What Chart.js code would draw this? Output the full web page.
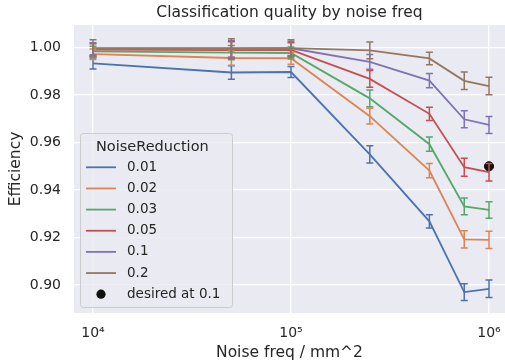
<!DOCTYPE html>
<html>
<head>
<meta charset="utf-8">
<script src="https://cdn.jsdelivr.net/npm/chart.js@4"></script>
<style>
  html, body { margin: 0; padding: 0; background: #fff; }
  canvas { display: block; }
</style>
</head>
<body>
<canvas id="qualityChart" width="505" height="362"></canvas>
<script>
// Noise frequency (per mm^2) at which every run was measured
const noiseFreq = [1e4, 5e4, 1e5, 2.5e5, 5e5, 7.5e5, 1e6];
const noiseReduction = ["0.01", "0.02", "0.03", "0.05", "0.1", "0.2"];

// Mean efficiency per noise reduction level
const eff001 = [0.9933, 0.9895, 0.9897, 0.9550, 0.9268, 0.8970, 0.8984];
const eff002 = [0.9972, 0.9956, 0.9955, 0.9711, 0.9482, 0.9192, 0.9190];
const eff003 = [0.9984, 0.9979, 0.9977, 0.9786, 0.9593, 0.9331, 0.9316];
const eff005 = [0.9991, 0.9989, 0.9990, 0.9868, 0.9721, 0.9496, 0.9475];
const eff01  = [0.9995, 0.9995, 0.9997, 0.9940, 0.9861, 0.9698, 0.9674];
const eff02  = [0.9997, 0.9997, 0.9998, 0.9988, 0.9954, 0.9860, 0.9838];

// Half-width of the error bars
const err001 = [0.0023, 0.0028, 0.0023, 0.0036, 0.0028, 0.0035, 0.0037];
const err002 = [0.0022, 0.0030, 0.0025, 0.0033, 0.0030, 0.0036, 0.0036];
const err003 = [0.0022, 0.0030, 0.0025, 0.0035, 0.0030, 0.0035, 0.0035];
const err005 = [0.0025, 0.0035, 0.0030, 0.0035, 0.0028, 0.0038, 0.0037];
const err01  = [0.0025, 0.0035, 0.0030, 0.0031, 0.0030, 0.0036, 0.0036];
const err02  = [0.0036, 0.0040, 0.0035, 0.0035, 0.0026, 0.0037, 0.0037];

const effSeries = [eff001, eff002, eff003, eff005, eff01, eff02];
const errSeries = [err001, err002, err003, err005, err01, err02];

// Target point
const desiredLabel = "desired at 0.1";
const desiredFreq = [1e6];
const desiredEff = [0.95];

const xTicks = [1e4, 1e5, 1e6];
const yTicks = [0.90, 0.92, 0.94, 0.96, 0.98, 1.00];

const palette = ["#4C72B0", "#DD8452", "#55A868", "#C44E52", "#8172B3", "#937860"];
const textColor = "#262626";
const fontFamily = "'DejaVu Sans', sans-serif";
const superscripts = { 4: "\u2074", 5: "\u2075", 6: "\u2076" };

const datasets = noiseReduction.map((label, i) => ({
    label: label,
    data: noiseFreq.map((f, j) => ({ x: f, y: effSeries[i][j] })),
    errors: errSeries[i],
    borderColor: palette[i],
    backgroundColor: palette[i],
    borderWidth: 1.8,
    pointRadius: 0,
    tension: 0,
    order: noiseReduction.length - i
}));

datasets.push({
    label: desiredLabel,
    data: desiredFreq.map((f, j) => ({ x: f, y: desiredEff[j] })),
    showLine: false,
    pointRadius: 4.6,
    pointBackgroundColor: "#111111",
    pointBorderColor: "#111111",
    borderColor: "#111111",
    order: 0
});

// grey plot area like seaborn's darkgrid
const plotBackground = {
    id: "plotBackground",
    beforeDraw(chart) {
        const { ctx, chartArea: a } = chart;
        ctx.save();
        ctx.fillStyle = "#EAEAF2";
        ctx.fillRect(a.left, a.top, a.right - a.left, a.bottom - a.top);
        ctx.restore();
    }
};

// vertical error bars with caps
const errorBars = {
    id: "errorBars",
    afterDatasetsDraw(chart) {
        const ctx = chart.ctx;
        const xs = chart.scales.x, ys = chart.scales.y;
        const cap = 3.5;
        ctx.save();
        ctx.lineWidth = 1.5;
        chart.data.datasets.forEach(ds => {
            if (!ds.errors) return;
            ctx.strokeStyle = ds.borderColor;
            ds.data.forEach((pt, i) => {
                const px = xs.getPixelForValue(pt.x);
                const top = ys.getPixelForValue(pt.y + ds.errors[i]);
                const bot = ys.getPixelForValue(pt.y - ds.errors[i]);
                ctx.beginPath();
                ctx.moveTo(px, top); ctx.lineTo(px, bot);
                ctx.moveTo(px - cap, top); ctx.lineTo(px + cap, top);
                ctx.moveTo(px - cap, bot); ctx.lineTo(px + cap, bot);
                ctx.stroke();
            });
        });
        ctx.restore();
    }
};

// legend box in the lower left corner of the plot
const boxLegend = {
    id: "boxLegend",
    afterDraw(chart) {
        const ctx = chart.ctx;
        const left = 80, top = 133, width = 152, height = 174, r = 3;
        ctx.save();
        ctx.beginPath();
        ctx.roundRect(left + 0.5, top + 0.5, width, height, r);
        ctx.fillStyle = "rgba(234,234,242,0.8)";
        ctx.fill();
        ctx.strokeStyle = "#CCCCCC";
        ctx.lineWidth = 1;
        ctx.stroke();

        ctx.fillStyle = textColor;
        ctx.textBaseline = "middle";
        ctx.font = "14.5px " + fontFamily;
        ctx.fillText("NoiseReduction", 96, 147);

        ctx.font = "13.5px " + fontFamily;
        chart.data.datasets.forEach((ds, i) => {
            const cy = 167.3 + i * 21.15;
            if (ds.showLine === false) {
                ctx.beginPath();
                ctx.arc(101, cy, 4.6, 0, Math.PI * 2);
                ctx.fillStyle = ds.pointBackgroundColor;
                ctx.fill();
            } else {
                ctx.beginPath();
                ctx.moveTo(86, cy);
                ctx.lineTo(116, cy);
                ctx.strokeStyle = ds.borderColor;
                ctx.lineWidth = 1.8;
                ctx.stroke();
            }
            ctx.fillStyle = textColor;
            ctx.fillText(ds.label, 127, cy);
        });
        ctx.restore();
    }
};

new Chart(document.getElementById("qualityChart").getContext("2d"), {
    type: "line",
    data: { datasets: datasets },
    plugins: [plotBackground, errorBars, boxLegend],
    options: {
        responsive: false,
        animation: false,
        devicePixelRatio: 1,
        layout: { padding: 0, autoPadding: false },
        plugins: {
            legend: { display: false },
            tooltip: { enabled: false },
            title: {
                display: true,
                text: "Classification quality by noise freq",
                fullSize: false,
                color: textColor,
                font: { family: fontFamily, size: 15.5, weight: "normal" },
                padding: { top: 4, bottom: 2.4 }
            }
        },
        scales: {
            x: {
                type: "logarithmic",
                min: 8017,
                max: 1.2046e6,
                afterBuildTicks: s => { s.ticks = xTicks.map(v => ({ value: v, major: true })); },
                afterFit: s => { s.height = 49; s.paddingLeft = 0; s.paddingRight = 0; },
                grid: { color: "#FFFFFF", lineWidth: 1.3, drawTicks: false },
                border: { display: false },
                ticks: {
                    padding: 12,
                    maxRotation: 0,
                    color: textColor,
                    font: { family: fontFamily, size: 14 },
                    callback: v => "10" + superscripts[Math.round(Math.log10(v))]
                },
                title: {
                    display: true,
                    text: "Noise freq / mm^2",
                    color: textColor,
                    font: { family: fontFamily, size: 15.5 },
                    padding: { top: 0, bottom: 0 }
                }
            },
            y: {
                min: 0.8882,
                max: 1.0095,
                afterBuildTicks: s => { s.ticks = yTicks.map(v => ({ value: v })); },
                afterFit: s => { s.width = 74; s.paddingTop = 0; s.paddingBottom = 0; },
                grid: { color: "#FFFFFF", lineWidth: 1.3, drawTicks: false },
                border: { display: false },
                ticks: {
                    padding: 13,
                    color: textColor,
                    font: { family: fontFamily, size: 14 },
                    callback: v => v.toFixed(2)
                },
                title: {
                    display: true,
                    text: "Efficiency",
                    color: textColor,
                    font: { family: fontFamily, size: 15.5 },
                    padding: { top: 7, bottom: 0 }
                }
            }
        }
    }
});
</script>
</body>
</html>
